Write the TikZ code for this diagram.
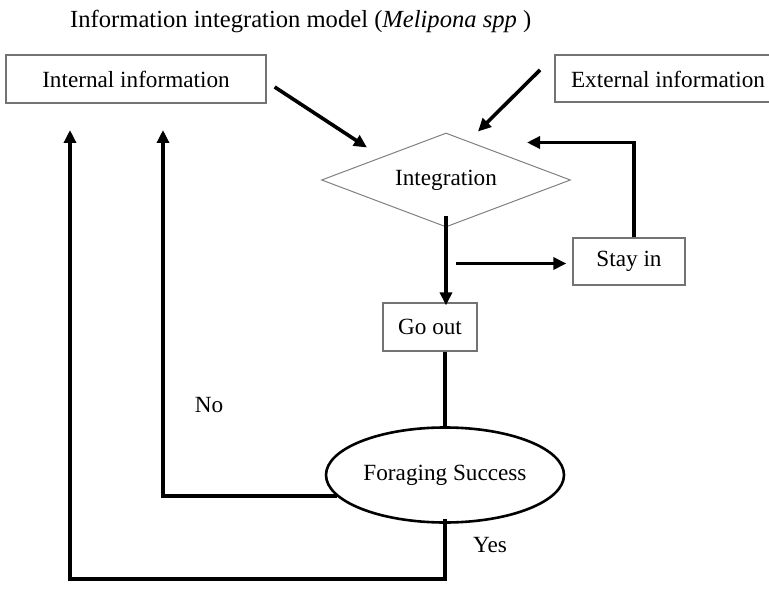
\documentclass[tikz,border=0pt]{standalone}
\usepackage{fontspec}
\setmainfont{Liberation Serif}
\usetikzlibrary{shapes.geometric,arrows.meta}
\begin{document}
\begin{tikzpicture}[x=1pt,y=-1pt,
  txt/.style={font=\fontsize{23.2}{27}\selectfont, inner sep=0pt},
  box/.style={txt, draw=black!55, line width=1.3pt, minimum width=#1, minimum height=48pt},
  link/.style={line width=3.6pt},
  arr/.style={link, -{Triangle[length=13pt,width=12pt]}},
]
\clip (0,0) rectangle (769,591);
\useasboundingbox (0,0) rectangle (769,591);
\node[txt, font=\fontsize{24.6}{28}\selectfont, anchor=west] (title) at (70,21) {Information integration model (\textit{Melipona spp} )};
\node[box=260pt] (int) at (136,79) {Internal information};
\node[txt] (ext) at (668,79) {External information};
\coordinate (extL) at (555,79);
\draw[black!55, line width=1.3pt] (775,55) -- (555,55) -- (555,102) -- (775,102);
\node[txt, shape=diamond, draw=black!50, line width=1pt, minimum width=249pt, minimum height=94pt, aspect=2.65] (integ) at (446,180) {Integration};
\node[box=112pt, minimum height=47pt] (stay) at (629,261.5) {Stay in};
\node[box=94pt] (goout) at (430,327) {Go out};
\node[txt, shape=ellipse, draw=black, line width=2.6pt, minimum width=238pt, minimum height=95pt] (forage) at (445,475) {Foraging Success};
\node[txt] (no) at (209,405) {No};
\node[txt] (yes) at (490,545) {Yes};

\draw[arr] ([shift={(8,8)}]int.east) -- ([shift={(-79,15)}]integ.north);
\draw[arr] ([shift={(-15,-9)}]extL) -- ([shift={(32,-1)}]integ.north);
\draw[arr] ([xshift=5]stay.north) |- ([shift={(81,10)}]integ.north);
\draw[arr] ([xshift=-116pt,yshift=-2]stay.west) -- ([xshift=-6pt,yshift=-2]stay.west);
\draw[arr] ([yshift=11]integ.south) -- ([yshift=-3]goout.north -| integ.south);
\draw[link] (goout.south -| forage.north) -- (forage.north);
\coordinate (notop) at (163,130);
\coordinate (yestop) at (70,130);
\draw[arr] (forage.191) -| (notop);
\draw[arr] ([yshift=5]forage.south) -- ++(0,60) -| (yestop);
\end{tikzpicture}
\end{document}
